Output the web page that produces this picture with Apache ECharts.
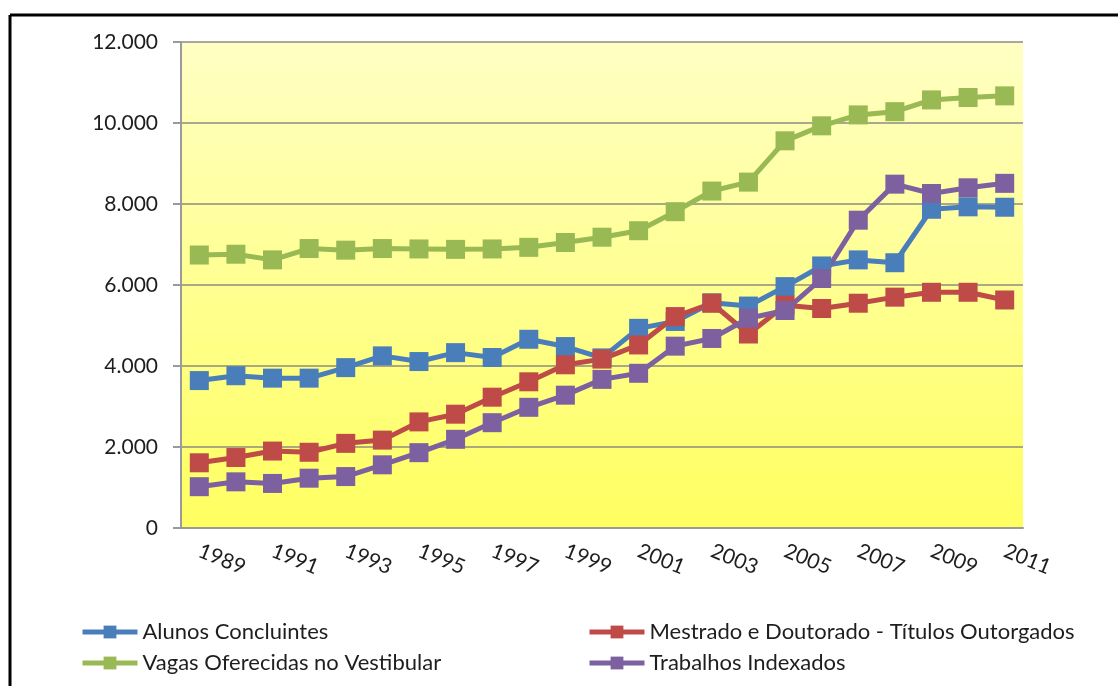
<!DOCTYPE html>
<html>
<head>
<meta charset="utf-8">
<script src="https://cdn.jsdelivr.net/npm/echarts@6/dist/echarts.min.js"></script>
<style>
  html, body { margin: 0; padding: 0; background: #fff; }
  #chart { width: 1118px; height: 686px; }
</style>
</head>
<body>
<div id="chart"></div>
<script>
var years = ['1989', '1990', '1991', '1992', '1993', '1994', '1995', '1996', '1997', '1998', '1999', '2000',
             '2001', '2002', '2003', '2004', '2005', '2006', '2007', '2008', '2009', '2010', '2011'];
var alunos = [3640, 3760, 3700, 3700, 3960, 4250, 4110, 4330, 4210, 4660, 4480, 4200,
              4930, 5100, 5560, 5480, 5960, 6470, 6620, 6550, 7870, 7930, 7920];
var mestrado = [1610, 1740, 1900, 1870, 2090, 2170, 2620, 2810, 3230, 3610, 4030, 4170,
                4520, 5220, 5550, 4790, 5500, 5420, 5550, 5700, 5820, 5820, 5630];
var vagas = [6740, 6760, 6620, 6900, 6860, 6900, 6890, 6880, 6890, 6930, 7050, 7180,
             7340, 7810, 8320, 8540, 9560, 9930, 10200, 10280, 10570, 10630, 10670];
var trabalhos = [1020, 1140, 1100, 1230, 1270, 1560, 1860, 2190, 2600, 2980, 3280, 3670,
                 3820, 4490, 4680, 5180, 5370, 6160, 7600, 8490, 8260, 8400, 8510];

var font = 'Lato';
var textColor = '#1e1e1e';

function fmt(v) {
    // ponto como separador de milhar
    return String(v).replace(/\B(?=(\d{3})+(?!\d))/g, '.');
}

function makeSeries(name, data, color) {
    return {
        name: name,
        type: 'line',
        data: data,
        symbol: 'rect',
        symbolSize: 19,
        lineStyle: { color: color, width: 5 },
        itemStyle: { color: color },
        animation: false
    };
}

var legendText = { fontFamily: font, fontSize: 22, color: textColor, lineHeight: 24 };

var chart = echarts.init(document.getElementById('chart'));
var option = {
    backgroundColor: '#fff',
    textStyle: { fontFamily: font },
    graphic: [
        { type: 'line', shape: { x1: 10, y1: 15, x2: 1118, y2: 15 }, style: { stroke: '#000', lineWidth: 3 } },
        { type: 'line', shape: { x1: 10, y1: 15, x2: 10, y2: 686 }, style: { stroke: '#000', lineWidth: 3 } }
    ],
    grid: {
        left: 181, right: 95, top: 42, bottom: 158,
        show: true,
        borderWidth: 0,
        backgroundColor: {
            type: 'linear', x: 0, y: 0, x2: 0, y2: 1,
            colorStops: [
                { offset: 0, color: '#ffffc4' },
                { offset: 1, color: '#ffff60' }
            ]
        }
    },
    legend: [{
        data: ['Alunos Concluintes', 'Vagas Oferecidas no Vestibular'],
        orient: 'vertical',
        left: 75, top: 615,
        itemWidth: 55, itemHeight: 16, itemGap: 7,
        lineStyle: { width: 5 },
        textStyle: legendText
    }, {
        data: ['Mestrado e Doutorado - Títulos Outorgados', 'Trabalhos Indexados'],
        orient: 'vertical',
        left: 582, top: 615,
        itemWidth: 55, itemHeight: 16, itemGap: 7,
        lineStyle: { width: 5 },
        textStyle: legendText
    }],
    xAxis: {
        type: 'category',
        data: years,
        boundaryGap: true,
        axisLine: { lineStyle: { color: '#9a9a9a', width: 2 } },
        axisTick: { show: false },
        axisLabel: {
            interval: 1,
            rotate: -22,
            margin: 22,
            fontFamily: font,
            fontSize: 21,
            color: textColor
        }
    },
    yAxis: {
        type: 'value',
        min: 0, max: 12000, interval: 2000,
        axisLine: { show: true, lineStyle: { color: '#9a9a9a', width: 2 } },
        axisTick: { show: true, length: 8, lineStyle: { color: '#9a9a9a', width: 2 } },
        splitLine: { lineStyle: { color: '#8c8c80', width: 1.5 } },
        axisLabel: {
            margin: 23,
            fontFamily: font,
            fontSize: 21,
            color: textColor,
            formatter: fmt
        }
    },
    series: [
        makeSeries('Alunos Concluintes', alunos, '#4a7ebb'),
        makeSeries('Mestrado e Doutorado - Títulos Outorgados', mestrado, '#be4b48'),
        makeSeries('Vagas Oferecidas no Vestibular', vagas, '#98b954'),
        makeSeries('Trabalhos Indexados', trabalhos, '#7d60a0')
    ]
};
chart.setOption(option);
</script>
</body>
</html>
